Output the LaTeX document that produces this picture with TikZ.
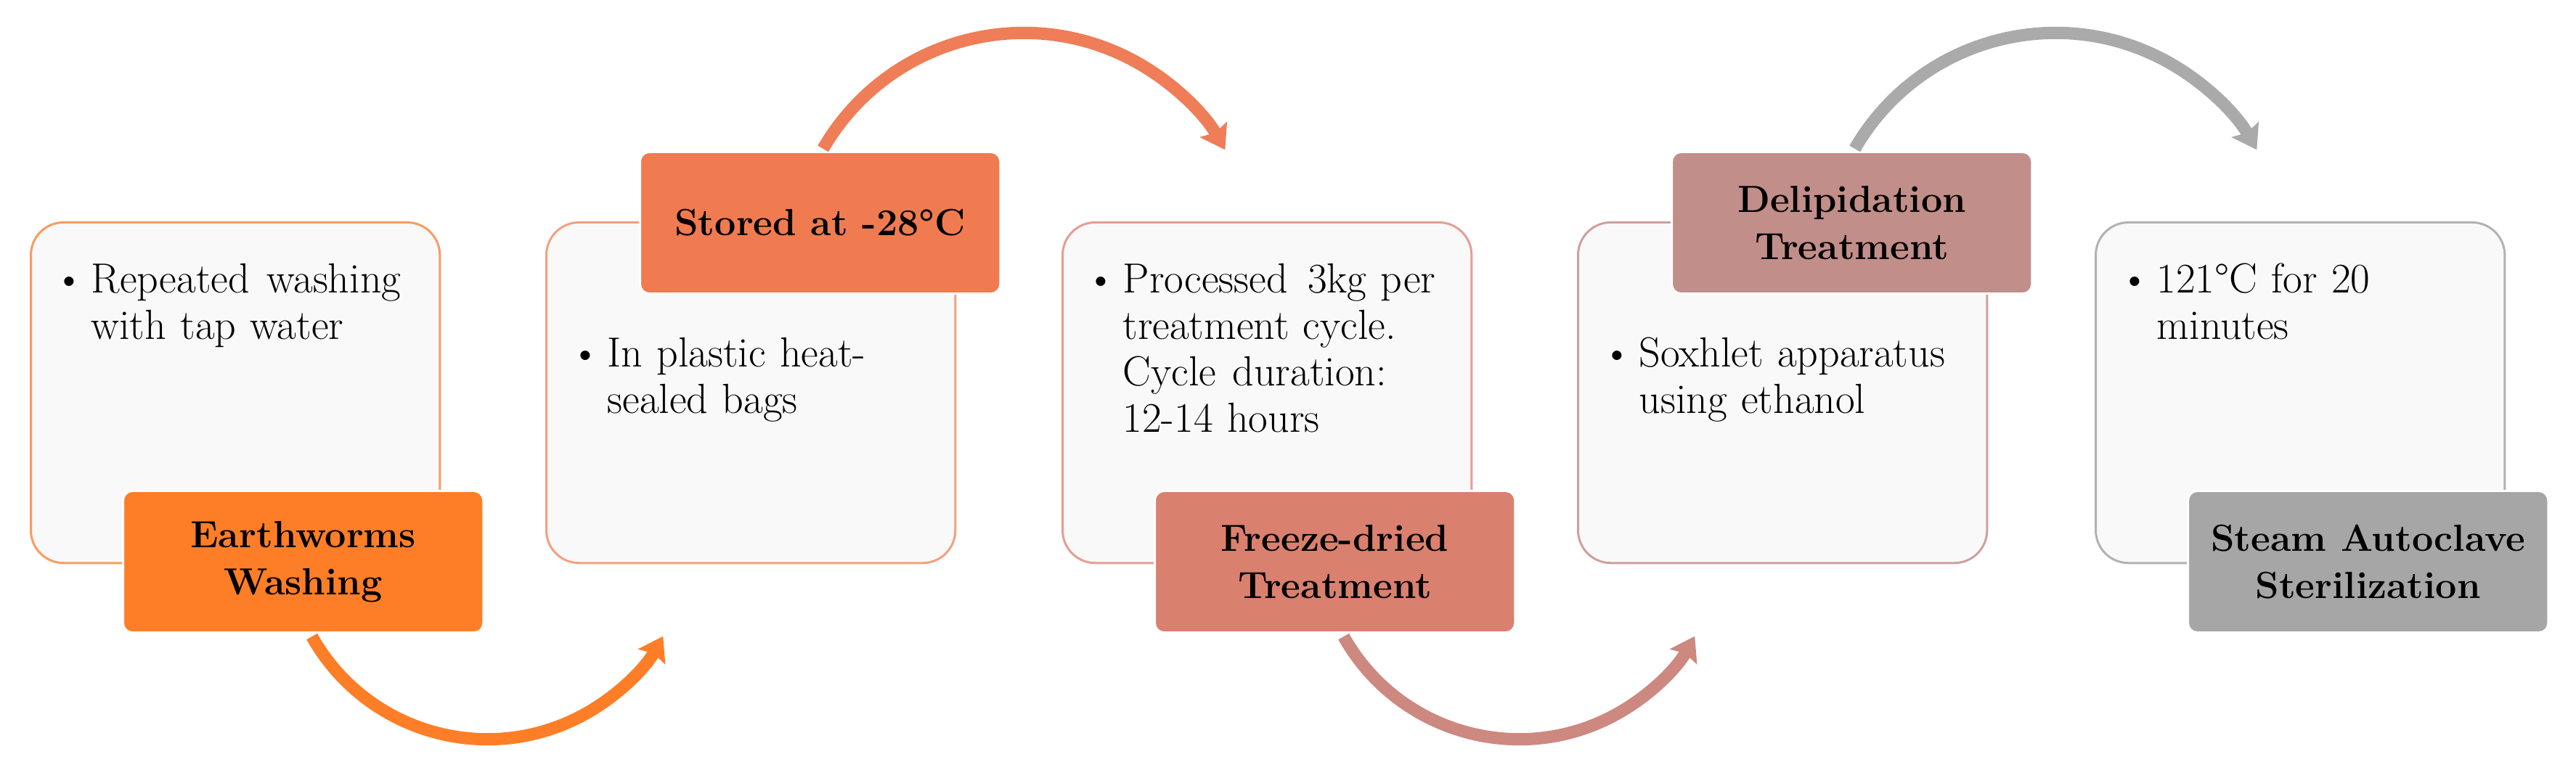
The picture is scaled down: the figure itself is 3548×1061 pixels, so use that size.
\documentclass[tikz,border=0pt]{standalone}
\usepackage{fontspec}
\usetikzlibrary{arrows.meta}
\definecolor{panelfill}{RGB}{249,249,249}
\definecolor{tagA}{RGB}{253,126,39}
\definecolor{edgeA}{RGB}{250,155,100}
\definecolor{tagB}{RGB}{240,123,80}
\definecolor{edgeB}{RGB}{244,160,128}
\definecolor{arcB}{RGB}{238,125,88}
\definecolor{tagC}{RGB}{217,128,111}
\definecolor{edgeC}{RGB}{228,158,146}
\definecolor{arcC}{RGB}{205,136,128}
\definecolor{tagD}{RGB}{193,142,137}
\definecolor{edgeD}{RGB}{208,160,156}
\definecolor{arcD}{RGB}{170,170,170}
\definecolor{tagE}{RGB}{166,166,166}
\definecolor{edgeE}{RGB}{178,178,178}
\begin{document}
\begin{tikzpicture}[x=0.01cm,y=0.01cm,
  panel/.style={draw=#1, line width=0.03cm, fill=panelfill, rounded corners=0.45cm,
    minimum width=5.63cm, minimum height=4.69cm, anchor=north west, inner sep=0pt},
  tag/.style={fill=#1, draw=white, line width=0.03cm, rounded corners=0.13cm,
    minimum width=4.96cm, minimum height=1.95cm, anchor=north west, align=center,
    inner sep=0pt, font=\fontsize{14.8pt}{18.5pt}\selectfont\bfseries},
  bul/.style={anchor=base west, inner sep=0pt, text width=4.6cm, align=left,
    font=\fontsize{16.5pt}{18.2pt}\selectfont},
  flow/.style={draw=#1, line width=0.17cm,
    -{Stealth[length=0.32cm,width=0.42cm,inset=0.05cm]}},
]
\useasboundingbox (0,0) rectangle (3548,1061);
\newcommand{\bl}{\llap{\textbullet\hspace{0.09cm}}}
% step 1
\node[panel=edgeA] (b1) at (41,756) {};
\node[bul] (t1) at (125,657) {\bl Repeated\hspace{0.04cm} washing\\with tap water};
\node[tag=tagA] (l1) at (168,386) {Earthworms\\Washing};
% step 2
\node[panel=edgeB] (b2) at (751,756) {};
\node[bul] (t2) at (836,555) {\bl In plastic heat-\\sealed bags};
\node[tag=tagB] (l2) at (880,853) {Stored at -28\textdegree C};
% step 3
\node[panel=edgeC] (b3) at (1462,756) {};
\node[bul] (t3) at (1546,657) {\bl Processed\hspace{0.08cm} 3kg per\\treatment cycle.\\Cycle\hspace{0.03cm} duration:\\12-14 hours};
\node[tag=tagC] (l3) at (1589,386) {Freeze-dried\\Treatment};
% step 4
\node[panel=edgeD] (b4) at (2172,756) {};
\node[bul] (t4) at (2257,555) {\bl Soxhlet apparatus\\using ethanol};
\node[tag=tagD] (l4) at (2301,853) {Delipidation\\Treatment};
% step 5
\node[panel=edgeE] (b5) at (2885,756) {};
\node[bul] (t5) at (2970,657) {\bl 121\textdegree C for 20\\minutes};
\node[tag=tagE] (l5) at (3012,386) {Steam Autoclave\\Sterilization};
% connectors
\draw[flow=tagA] ([xshift=0.12cm,yshift=-0.04cm]l1.south) arc[start angle=209.3, end angle=330.8, radius=2.77cm];
\draw[flow=arcB] ([xshift=0.04cm,yshift=0.03cm]l2.north) arc[start angle=150, end angle=29.7, radius=3.19cm];
\draw[flow=arcC] ([xshift=0.12cm,yshift=-0.04cm]l3.south) arc[start angle=209.3, end angle=330.8, radius=2.77cm];
\draw[flow=arcD] ([xshift=0.04cm,yshift=0.03cm]l4.north) arc[start angle=150, end angle=29.7, radius=3.19cm];
\end{tikzpicture}
\end{document}
